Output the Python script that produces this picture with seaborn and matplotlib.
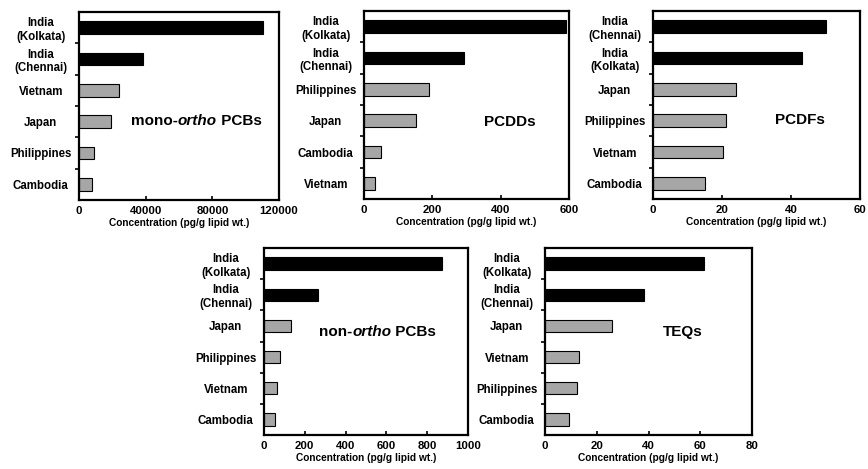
import matplotlib
matplotlib.use("Agg")
import matplotlib.pyplot as plt
import seaborn as sns
import pandas as pd

sns.set_style("white")
plt.rcParams["font.family"] = ["Liberation Sans", "DejaVu Sans"]
plt.rcParams["font.weight"] = "bold"
plt.rcParams["text.color"] = "black"
plt.rcParams["axes.labelcolor"] = "black"
plt.rcParams["xtick.color"] = "black"
plt.rcParams["ytick.color"] = "black"

KOL = "India\n(Kolkata)"
CHE = "India\n(Chennai)"

# mono-ortho PCBs
mono_labels = [KOL, CHE, "Vietnam", "Japan", "Philippines", "Cambodia"]
mono_values = [110500, 38300, 24000, 19300, 9000, 8000]
# PCDDs
pcdd_labels = [KOL, CHE, "Philippines", "Japan", "Cambodia", "Vietnam"]
pcdd_values = [592, 292, 191, 151, 49, 33]
# PCDFs
pcdf_labels = [CHE, KOL, "Japan", "Philippines", "Vietnam", "Cambodia"]
pcdf_values = [50, 43.2, 24.2, 21.2, 20.2, 15.2]
# non-ortho PCBs
nono_labels = [KOL, CHE, "Japan", "Philippines", "Vietnam", "Cambodia"]
nono_values = [873, 263, 131, 76, 64, 53]
# TEQs
teq_labels = [KOL, CHE, "Japan", "Vietnam", "Philippines", "Cambodia"]
teq_values = [61.3, 38.2, 26.0, 13.1, 12.2, 9.3]

xlim_max = [120000, 600, 60, 1000, 80]
xtick_sets = [[0, 40000, 80000, 120000], [0, 200, 400, 600], [0, 20, 40, 60],
              [0, 200, 400, 600, 800, 1000], [0, 20, 40, 60, 80]]
titles = [("mono-", "ortho", " PCBs"), ("PCDDs",), ("PCDFs",),
          ("non-", "ortho", " PCBs"), ("TEQs",)]
title_pos = [(0.26, 0.42), (0.587, 0.41), (0.59, 0.42), (0.27, 0.55), (0.57, 0.55)]

W, H = 868, 469
# axes rectangles in pixels: left, top, right, bottom
rects_px = [(79, 12, 279, 200), (364, 11, 569, 199), (653, 11, 860, 199),
            (264, 248, 468, 435), (545, 248, 752, 435)]

all_labels = [mono_labels, pcdd_labels, pcdf_labels, nono_labels, teq_labels]
all_values = [mono_values, pcdd_values, pcdf_values, nono_values, teq_values]

fig = plt.figure(figsize=(W / 100, H / 100), dpi=100)
palette = {"India": "black", "Other": "#a6a6a6"}

for i in range(5):
    l, t, r, b = rects_px[i]
    ax = fig.add_axes([l / W, (H - b) / H, (r - l) / W, (b - t) / H])
    labels = all_labels[i]
    df = pd.DataFrame({
        "site": labels,
        "conc": all_values[i],
        "group": ["India" if s.startswith("India") else "Other" for s in labels],
    })
    sns.barplot(data=df, x="conc", y="site", hue="group", palette=palette,
                order=labels, dodge=False, width=0.4, edgecolor="black",
                linewidth=0.8, legend=False, ax=ax)
    ax.set_xlim(0, xlim_max[i])
    ax.set_ylim(5.5, -0.5)
    ax.set_xticks(xtick_sets[i])
    ax.set_xticklabels([str(v) for v in xtick_sets[i]], fontsize=8.2, fontweight="bold")
    ax.set_yticks(range(6))
    ax.set_yticks([k + 0.5 for k in range(5)], minor=True)
    ax.tick_params(axis="y", which="major", length=0, pad=27.5, labelsize=8.3)
    ax.tick_params(axis="y", which="minor", left=True, length=3, width=1.2,
                   direction="out", color="black")
    ax.tick_params(axis="x", which="major", bottom=True, length=3, width=1.2,
                   direction="in", pad=4, color="black")
    for lab in ax.get_yticklabels():
        lab.set_horizontalalignment("center")
        lab.set_fontweight("bold")
    ax.set_ylabel("")
    ax.set_xlabel("Concentration (pg/g lipid wt.)", fontsize=7.3,
                  fontweight="bold", labelpad=2)
    for sp in ax.spines.values():
        sp.set_visible(True)
        sp.set_color("black")
        sp.set_linewidth(1.6)

    # panel title, with the "ortho" part in italics
    parts = titles[i]
    x0, y0 = title_pos[i]
    prev = ax.text(x0, y0, parts[0], transform=ax.transAxes, ha="left",
                   va="center", fontsize=11, fontweight="bold")
    for j, p in enumerate(parts[1:]):
        prev = ax.annotate(p, xy=(1, 0.5), xycoords=prev, ha="left", va="center",
                           fontsize=11, fontweight="bold",
                           fontstyle="italic" if p == "ortho" else "normal")

fig.savefig("out.png", dpi=100)
